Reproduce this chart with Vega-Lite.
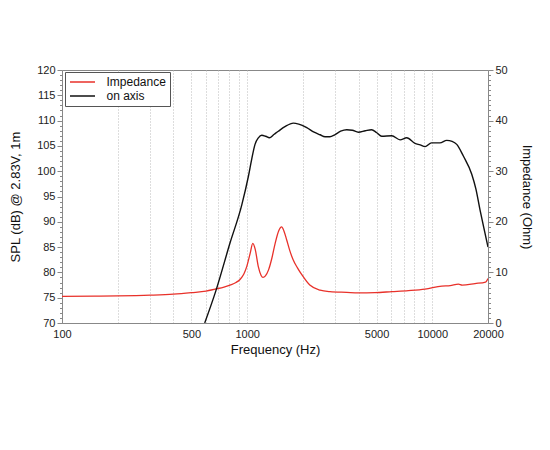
{
  "$schema": "https://vega.github.io/schema/vega-lite/v6.json",
  "autosize": {"type": "none"},
  "padding": {"left": 62, "top": 70, "right": 62, "bottom": 127},
  "width": 426,
  "height": 253,
  "datasets": {
    "spl": [
      {"f": 590, "v": 70}, {"f": 677, "v": 76.3}, {"f": 808, "v": 85.8}, {"f": 935, "v": 93.3},
      {"f": 1016, "v": 99}, {"f": 1060, "v": 102.5}, {"f": 1103, "v": 105.3}, {"f": 1150, "v": 106.6},
      {"f": 1199, "v": 107.1}, {"f": 1260, "v": 106.9}, {"f": 1318, "v": 106.6}, {"f": 1400, "v": 107.3},
      {"f": 1474, "v": 107.9}, {"f": 1600, "v": 108.8}, {"f": 1777, "v": 109.5}, {"f": 1900, "v": 109.3},
      {"f": 2099, "v": 108.6}, {"f": 2300, "v": 107.7}, {"f": 2477, "v": 107.2}, {"f": 2635, "v": 106.8},
      {"f": 2800, "v": 106.8}, {"f": 2975, "v": 107.2}, {"f": 3200, "v": 107.9}, {"f": 3450, "v": 108.2},
      {"f": 3700, "v": 108.1}, {"f": 3990, "v": 107.7}, {"f": 4350, "v": 108.0}, {"f": 4700, "v": 108.2},
      {"f": 5015, "v": 107.6}, {"f": 5330, "v": 106.9}, {"f": 6043, "v": 107.0}, {"f": 6698, "v": 106.2},
      {"f": 7280, "v": 106.6}, {"f": 8073, "v": 105.5}, {"f": 8600, "v": 105.2}, {"f": 9141, "v": 104.85},
      {"f": 9900, "v": 105.6}, {"f": 11000, "v": 105.6}, {"f": 11970, "v": 106.1}, {"f": 12800, "v": 105.9},
      {"f": 13560, "v": 105.3}, {"f": 14720, "v": 103.0}, {"f": 16340, "v": 99.4}, {"f": 17200, "v": 96.5},
      {"f": 18120, "v": 92.3}, {"f": 19200, "v": 88}, {"f": 20000, "v": 85}
    ],
    "imp": [
      {"f": 100, "v": 5.25}, {"f": 150, "v": 5.3}, {"f": 200, "v": 5.35}, {"f": 300, "v": 5.5},
      {"f": 400, "v": 5.7}, {"f": 500, "v": 6.0}, {"f": 600, "v": 6.3}, {"f": 672, "v": 6.7},
      {"f": 750, "v": 7.1}, {"f": 808, "v": 7.5}, {"f": 870, "v": 8.0}, {"f": 915, "v": 8.6},
      {"f": 960, "v": 9.7}, {"f": 996, "v": 11.2}, {"f": 1039, "v": 13.8}, {"f": 1073, "v": 15.75},
      {"f": 1105, "v": 14.6}, {"f": 1150, "v": 11.1}, {"f": 1190, "v": 9.4}, {"f": 1218, "v": 9.0},
      {"f": 1255, "v": 9.3}, {"f": 1305, "v": 10.5}, {"f": 1360, "v": 12.8}, {"f": 1417, "v": 15.75},
      {"f": 1480, "v": 18.2}, {"f": 1536, "v": 19.0}, {"f": 1580, "v": 18.2}, {"f": 1636, "v": 16.4},
      {"f": 1700, "v": 14.3}, {"f": 1772, "v": 12.5}, {"f": 1870, "v": 10.9}, {"f": 1978, "v": 9.5},
      {"f": 2180, "v": 7.5}, {"f": 2477, "v": 6.5}, {"f": 2800, "v": 6.2}, {"f": 3450, "v": 6.05},
      {"f": 3990, "v": 5.95}, {"f": 4900, "v": 6.0}, {"f": 6043, "v": 6.2}, {"f": 7430, "v": 6.4},
      {"f": 9141, "v": 6.7}, {"f": 11260, "v": 7.3}, {"f": 12500, "v": 7.4}, {"f": 13850, "v": 7.7},
      {"f": 14500, "v": 7.5}, {"f": 17000, "v": 7.8}, {"f": 19400, "v": 8.1}, {"f": 20000, "v": 8.8}
    ]
  },
  "encoding": {
    "x": {
      "field": "f",
      "type": "quantitative",
      "title": "Frequency (Hz)",
      "scale": {"type": "log", "domain": [100, 20000], "nice": false},
      "axis": {
        "values": [100, 200, 300, 400, 500, 600, 700, 800, 900, 1000, 2000, 3000, 4000, 5000, 6000, 7000, 8000, 9000, 10000, 20000],
        "format": "d",
        "labelExpr": "indexof([100, 500, 1000, 5000, 10000, 20000], datum.value) >= 0 ? datum.label : ''",
        "labelFlush": false,
        "ticks": false,
        "labelPadding": 5,
        "titlePadding": 4
      }
    }
  },
  "layer": [
    {
      "data": {"name": "imp"},
      "mark": {"type": "line", "strokeWidth": 1.3, "interpolate": "monotone", "clip": true},
      "encoding": {
        "y": {
          "field": "v",
          "type": "quantitative",
          "title": "Impedance (Ohm)",
          "scale": {"domain": [0, 50], "nice": false},
          "axis": {
            "orient": "right",
            "grid": false,
            "values": [0,1,2,3,4,5,6,7,8,9,10,11,12,13,14,15,16,17,18,19,20,21,22,23,24,25,26,27,28,29,30,31,32,33,34,35,36,37,38,39,40,41,42,43,44,45,46,47,48,49,50],
            "labelExpr": "datum.value % 10 === 0 ? datum.label : ''",
            "tickSize": {"condition": {"test": "datum.value % 10 === 0", "value": 5}, "value": 2.5},
            "titlePadding": 12
          }
        },
        "color": {
          "datum": "Impedance",
          "type": "nominal",
          "scale": {"domain": ["Impedance", "on axis"], "range": ["#e8312a", "#111111"]},
          "legend": {"title": null}
        }
      }
    },
    {
      "data": {"name": "spl"},
      "mark": {"type": "line", "strokeWidth": 1.4, "interpolate": "monotone", "clip": true},
      "encoding": {
        "y": {
          "field": "v",
          "type": "quantitative",
          "title": "SPL (dB) @ 2.83V, 1m",
          "scale": {"domain": [70, 120], "nice": false},
          "axis": {
            "orient": "left",
            "values": [70,71,72,73,74,75,76,77,78,79,80,81,82,83,84,85,86,87,88,89,90,91,92,93,94,95,96,97,98,99,100,101,102,103,104,105,106,107,108,109,110,111,112,113,114,115,116,117,118,119,120],
            "labelExpr": "datum.value % 5 === 0 ? datum.label : ''",
            "tickSize": {"condition": {"test": "datum.value % 5 === 0", "value": 5}, "value": 2.5},
            "gridOpacity": {"condition": {"test": "datum.value % 5 === 0", "value": 1}, "value": 0},
            "titlePadding": 14
          }
        },
        "color": {"datum": "on axis", "type": "nominal"}
      }
    }
  ],
  "resolve": {"scale": {"y": "independent"}},
  "config": {
    "font": "Liberation Sans",
    "view": {"stroke": "#888888", "strokeWidth": 1},
    "axis": {
      "labelFont": "Liberation Sans",
      "labelFontSize": 11,
      "labelColor": "#222222",
      "titleFont": "Liberation Sans",
      "titleFontSize": 13,
      "titleFontWeight": "normal",
      "titleColor": "#111111",
      "domainColor": "#888888",
      "tickColor": "#888888",
      "grid": true,
      "gridColor": "#bbbbbb",
      "gridDash": [1, 2],
      "gridWidth": 1
    },
    "legend": {
      "orient": "none",
      "legendX": 3,
      "legendY": 2,
      "strokeColor": "#555555",
      "fillColor": "white",
      "padding": 4,
      "labelFont": "Liberation Sans",
      "labelFontSize": 12,
      "labelColor": "#111111",
      "symbolType": "M-2.5,0L2.5,0",
      "symbolSize": 100,
      "symbolStrokeWidth": 1.5,
      "symbolOffset": 7.5,
      "labelOffset": 18,
      "rowPadding": 2
    }
  }
}
